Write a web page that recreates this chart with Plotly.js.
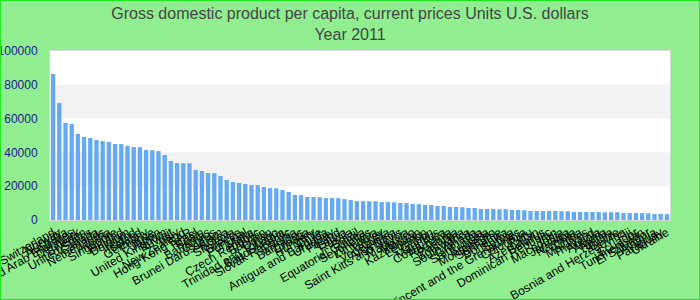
<!DOCTYPE html>
<html>
<head>
<meta charset="utf-8">
<script src="https://cdn.plot.ly/plotly-3.0.1.min.js"></script>
<style>
html,body{margin:0;padding:0;background:#90ee90;}
#wrap{width:700px;height:300px;box-sizing:border-box;border:1px solid #22e622;overflow:hidden;}
#chart{width:698px;height:298px;}
</style>
</head>
<body>
<div id="wrap"><div id="chart"></div></div>
<script>
const countries = [
"Switzerland","Norway","Australia","United Arab Emirates","Denmark","Sweden","United States","Canada","Netherlands","Austria",
"Singapore","Finland","Belgium","Ireland","Iceland","Germany","France","Japan","United Kingdom","Kuwait",
"Italy","New Zealand","Hong Kong SAR","Israel","Spain","Bahamas","Cyprus","Brunei Darussalam","Korea","Slovenia",
"Greece","Portugal","Malta","Czech Republic","Bahrain","Oman","Trinidad and Tobago","Saudi Arabia","Slovak Republic","Estonia",
"Barbados","Croatia","Hungary","Chile","Antigua and Barbuda","Uruguay","Poland","Latvia","Russia","Brazil",
"Equatorial Guinea","Seychelles","Lithuania","Turkey","Venezuela","Argentina","Saint Kitts and Nevis","Malaysia","Mexico","Kazakhstan",
"Lebanon","Gabon","Mauritius","Costa Rica","Romania","Panama","Botswana","South Africa","Grenada","Saint Lucia",
"Bulgaria","Montenegro","Suriname","Dominica","Serbia","Saint Vincent and the Grenadines","Colombia","Peru","Azerbaijan","Belarus",
"Dominican Republic","Iran","Macedonia","Jamaica","Namibia","China","Maldives","Thailand","Angola","Algeria",
"Tunisia","Belize","Bosnia and Herzegovina","Fiji","Ecuador","Turkmenistan","El Salvador","Albania","Paraguay","Ukraine"
];
const gdpPerCapita = [
86400,69200,57400,56800,50900,49100,48500,47300,46700,46200,
45000,44900,43800,43200,43100,41400,41300,40800,38500,34900,
33700,33600,33600,29600,29000,27800,27700,26000,23700,22500,
21900,21300,20700,20600,19500,18900,18800,17700,16600,14800,
14700,13600,13600,13500,13000,13000,12900,12400,11800,11200,
11200,11100,11100,10600,10600,10500,10100,10000,9500,9400,
8900,8900,8300,8300,7700,7700,7600,7100,7100,6500,
6500,6500,6400,6400,5900,5900,5800,5300,5300,5300,
5300,5300,5200,5200,4700,4700,4700,4700,4700,4600,
4600,4600,4100,4100,4100,4100,4000,3600,3600,3500
];
const yTicks = [0,20000,40000,60000,80000,100000];
const titleLines = ["Gross domestic product per capita, current prices Units U.S. dollars","Year 2011"];

const bands = [];
for (let i = 0; i < yTicks.length - 1; i++) {
  if (i % 2 === 1) {
    bands.push({type:"rect", xref:"paper", yref:"y", x0:0, x1:1, y0:yTicks[i], y1:yTicks[i+1],
      fillcolor:"#f2f2f2", line:{width:0}, layer:"below"});
  }
}

Plotly.newPlot("chart", [{
  type:"bar",
  x: countries,
  y: gdpPerCapita,
  marker:{color:"#64a9f1"},
  hoverinfo:"x+y"
}], {
  width:698, height:298,
  paper_bgcolor:"#90ee90",
  plot_bgcolor:"#ffffff",
  margin:{l:49, r:29, t:50, b:79, pad:0},
  bargap:0.3,
  showlegend:false,
  title:{text:titleLines.join("<br>"), x:0.5, xanchor:"center", y:0.94, yanchor:"top",
    font:{family:"Liberation Sans, Arial, sans-serif", size:16, color:"#444444"}},
  xaxis:{type:"category", tickmode:"array", tickvals:countries, ticktext:countries,
    tickangle:-30, automargin:false, showgrid:false,
    showline:true, mirror:true, linecolor:"#d6d6d6", linewidth:1, ticks:"",
    tickfont:{family:"Liberation Sans, Arial, sans-serif", size:12, color:"#000000"}},
  yaxis:{range:[0,100000], tickvals:yTicks, ticktext:yTicks.map(String), showgrid:false, zeroline:false,
    showline:true, mirror:true, linecolor:"#d6d6d6", linewidth:1, ticks:"", automargin:false,
    ticklabelstandoff:9,
    tickfont:{family:"Liberation Sans, Arial, sans-serif", size:12, color:"#1a1a8a"}},
  shapes:bands
}, {displayModeBar:false, staticPlot:true});
</script>
</body>
</html>
